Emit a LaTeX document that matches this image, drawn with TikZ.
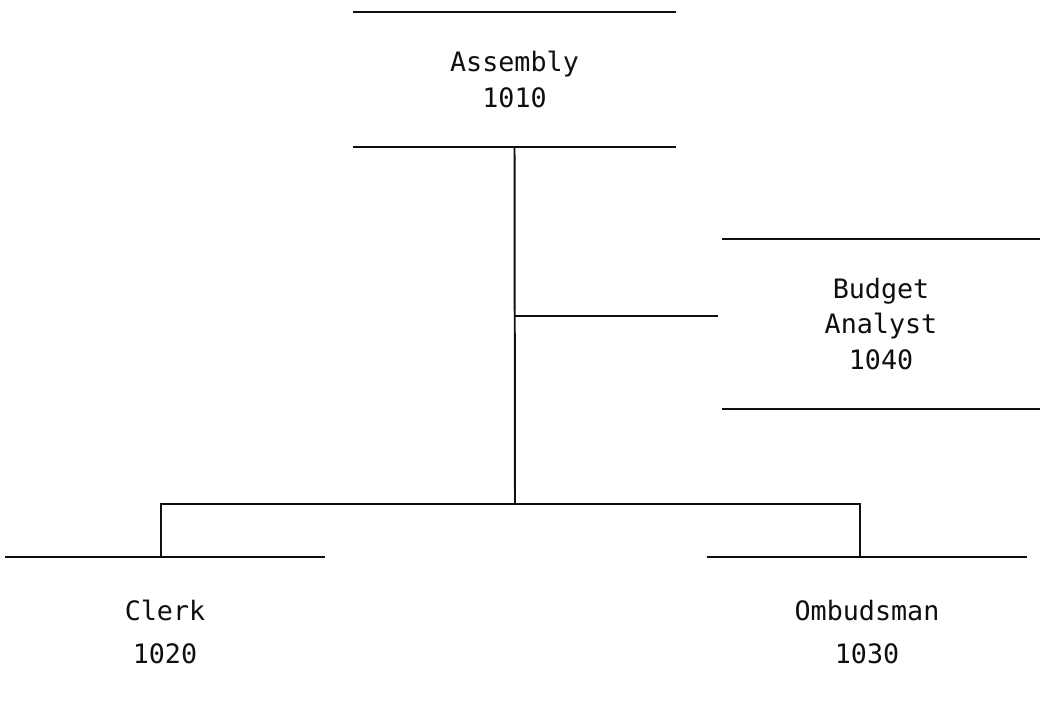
\documentclass[tikz,border=0pt]{standalone}
\usepackage{fontspec}
\newfontfamily\chartfont{DejaVu Sans Mono}
\usetikzlibrary{positioning,calc}
\definecolor{ink}{RGB}{15,15,15}
\tikzset{
  unit/.style={minimum width=#1,inner sep=0pt,align=center,text=ink,
    font=\chartfont\fontsize{19}{25}\selectfont},
  unit/.default=8cm,
  low unit/.style={unit=#1,font=\chartfont\fontsize{19}{31}\selectfont},
  rule/.style={draw=ink,line width=1.6pt},
  link/.style={draw=ink,line width=1.4pt},
}

\begin{document}
\begin{tikzpicture}[x=0.025cm,y=-0.025cm]
  \useasboundingbox[fill=white] (0,0) rectangle (1040,719);
  % offices
  \node[unit=8.075cm,minimum height=3.375cm] (asm) at (514.5,79.5) {Assembly\\1010};
  \node[unit=7.95cm,minimum height=4.25cm] (ba) at (881,324) {Budget\\Analyst\\1040};
  \node[low unit=7.975cm,minimum height=3.75cm] (clerk) at (165,632) {Clerk\\1020};
  \node[low unit=8cm,minimum height=3.75cm] (omb) at (867,632) {Ombudsman\\1030};
  % rules above and below
  \foreach \n in {asm,ba}
    \draw[rule] (\n.north west) -- (\n.north east) (\n.south west) -- (\n.south east);
  \foreach \n in {clerk,omb}
    \draw[rule] (\n.north west) -- (\n.north east);
  % reporting lines
  \coordinate (tee) at (515,316);
  \coordinate (bar) at (515,504);
  \draw[link] (asm.south) -- (bar);
  \draw[link] (tee) -- ([xshift=-0.1cm]tee -| ba.west);
  \draw[link] ([xshift=-0.1cm]clerk.north) |- (bar) -| ([xshift=-0.175cm]omb.north);
\end{tikzpicture}
\end{document}
